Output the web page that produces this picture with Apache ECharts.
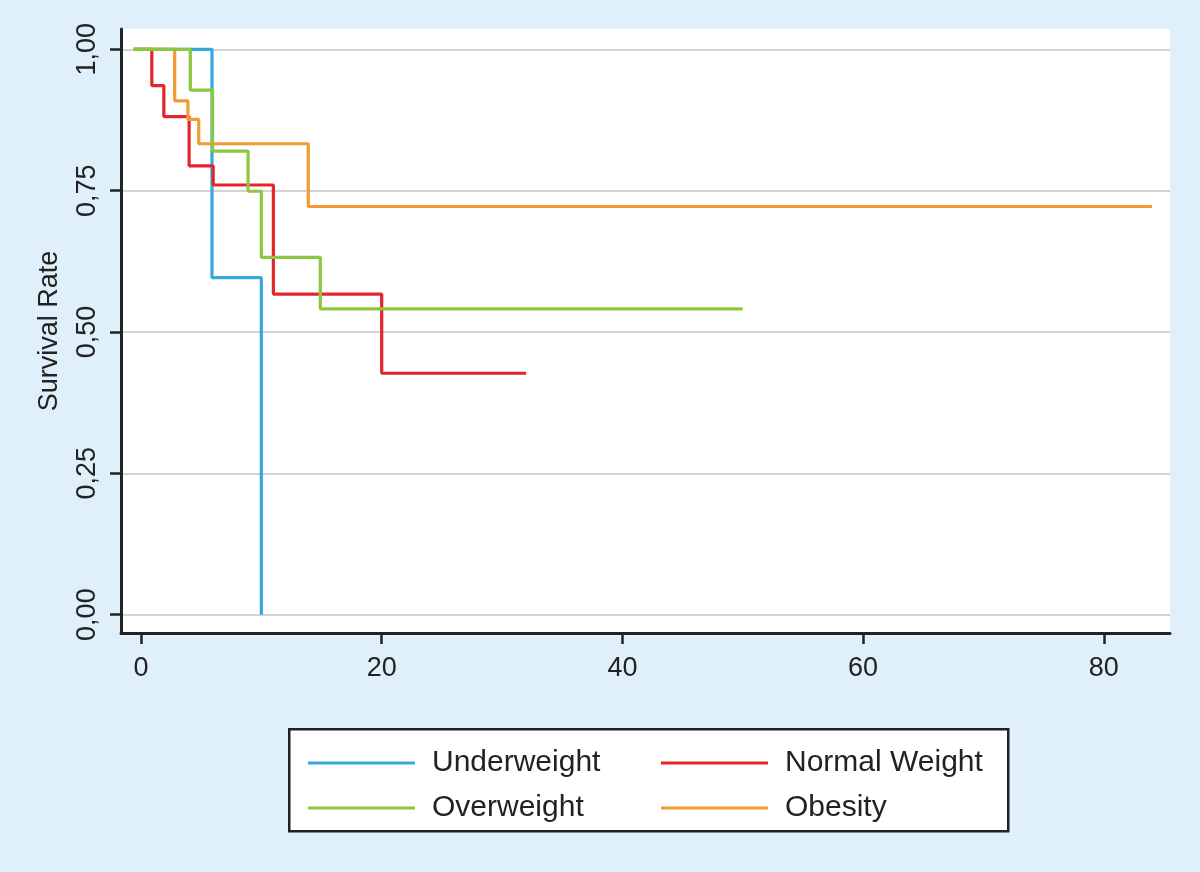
<!DOCTYPE html>
<html>
<head>
<meta charset="utf-8">
<script src="https://cdn.jsdelivr.net/npm/echarts@6/dist/echarts.min.js"></script>
<style>
html,body{margin:0;padding:0;background:#dff0fa;}
#c{width:1200px;height:872px;}
</style>
</head>
<body>
<div id="c"></div>
<script>
// Kaplan-Meier step data: [time, survival]
var underweight = [[-0.6,1],[5.9,0.596],[10,0]];
var normalWeight = [[-0.6,1],[0.9,0.936],[1.9,0.881],[4,0.794],[6,0.760],[11,0.567],[20,0.427],[32,0.427]];
var overweight = [[-0.6,1],[4.1,0.928],[5.95,0.820],[8.9,0.749],[10,0.632],[14.9,0.541],[50,0.541]];
var obesity = [[-0.6,1],[2.8,0.909],[3.9,0.876],[4.8,0.833],[13.9,0.722],[84,0.722]];
var xTicks = [0,20,40,60,80];
var yTicks = [0,0.25,0.5,0.75,1];
var yTickLabels = ['0,00','0,25','0,50','0,75','1,00'];
var seriesNames = ['Underweight','Normal Weight','Overweight','Obesity'];

var colors = {
  'Underweight':'#35a8dc',
  'Normal Weight':'#e2262b',
  'Overweight':'#8dc63f',
  'Obesity':'#f39a32'
};
var font = 'Liberation Sans, Arial, Helvetica, sans-serif';

function mk(name, data, z){
  return {
    name:name, type:'line', step:'end', data:data, showSymbol:false, symbol:'none',
    lineStyle:{width:3.2, color:colors[name]}, itemStyle:{color:colors[name]},
    z:z, animation:false, silent:true
  };
}

var chart = echarts.init(document.getElementById('c'));
var legendCommon = {
  orient:'vertical', icon:'rect', itemWidth:107, itemHeight:3, itemGap:15,
  selectedMode:false,
  textStyle:{fontFamily:font, fontSize:30, color:'#222', lineHeight:30, padding:[0,0,0,12]}
};
chart.setOption({
  backgroundColor:'#dff0fa',
  animation:false,
  grid:{left:121, top:29, right:30, bottom:239, show:true, backgroundColor:'#ffffff', borderWidth:0, containLabel:false},
  xAxis:{
    type:'value', min:-1.66, max:85.5,
    axisLine:{show:true, onZero:false, lineStyle:{color:'#222', width:3}},
    axisTick:{show:true, length:11, lineStyle:{color:'#222', width:2.5}, customValues:xTicks},
    axisLabel:{customValues:xTicks, fontFamily:font, fontSize:27, color:'#222', margin:22},
    splitLine:{show:false}
  },
  yAxis:{
    type:'value', min:-0.0325, max:1.036,
    name:'Survival Rate', nameLocation:'middle', nameGap:58, nameRotate:90,
    nameTextStyle:{fontFamily:font, fontSize:27, color:'#222'},
    axisLine:{show:true, onZero:false, lineStyle:{color:'#222', width:3}},
    axisTick:{show:true, length:11, lineStyle:{color:'#222', width:2.5}, customValues:yTicks},
    axisLabel:{customValues:yTicks, rotate:90, fontFamily:font, fontSize:27, color:'#222', margin:20,
      formatter:function(v){ var i = yTicks.indexOf(v); return i>=0 ? yTickLabels[i] : ''; }},
    splitLine:{show:true, lineStyle:{color:'#c4c4c4', width:1.5}}
  },
  legend:[
    Object.assign({left:303, top:743, data:[seriesNames[0], seriesNames[2]]}, legendCommon),
    Object.assign({left:656, top:743, data:[seriesNames[1], seriesNames[3]]}, legendCommon)
  ],
  graphic:[{
    type:'rect', left:288, top:728, z:-1,
    shape:{width:719, height:102},
    style:{fill:'#ffffff', stroke:'#222', lineWidth:2.5}
  }],
  series:[
    mk(seriesNames[0], underweight, 2),
    mk(seriesNames[1], normalWeight, 3),
    mk(seriesNames[3], obesity, 4),
    mk(seriesNames[2], overweight, 5)
  ]
});
</script>
</body>
</html>
